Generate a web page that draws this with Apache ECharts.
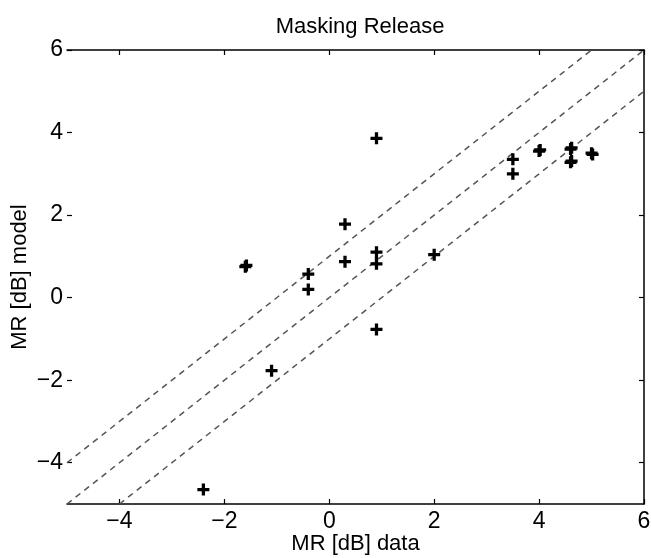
<!DOCTYPE html>
<html>
<head>
<meta charset="utf-8">
<script src="https://cdn.jsdelivr.net/npm/echarts@6/dist/echarts.min.js"></script>
<style>
  html, body { margin: 0; padding: 0; background: #fff; }
  #main { width: 651px; height: 558px; }
</style>
</head>
<body>
<div id="main"></div>
<script>
// Masking Release: model vs data

// measured MR (x) and model MR (y), dB
var mrData  = [-2.4, -1.1, -1.6, -1.58, -0.4, -0.4, 0.3, 0.3, 0.9, 0.9, 0.9, 0.9, 2.0, 3.5, 3.5, 4.0, 4.02, 4.6, 4.62, 4.6, 4.62, 5.0, 5.02];
var mrModel = [-4.65, -1.77, 0.75, 0.78, 0.57, 0.2, 1.78, 0.87, 3.86, 1.1, 0.82, -0.77, 1.04, 3.35, 3.0, 3.55, 3.58, 3.6, 3.63, 3.28, 3.31, 3.5, 3.47];

// reference lines y = x + 1, y = x, y = x - 1 (end points)
var lineUpper = [[-5, -4], [5, 6]];
var lineMid   = [[-5, -5], [6, 6]];
var lineLower = [[-4, -5], [6, 5]];

var tickValues = [-4, -2, 0, 2, 4, 6];

var points = mrData.map(function (x, i) { return [x, mrModel[i]]; });

var font = 'Liberation Sans, Arial, Helvetica, sans-serif';
var plusPath = 'path://M4,0h3v4h4v3h-4v4h-3v-4h-4v-3h4z';

function minus(v) {
    return String(v).replace('-', '\u2212');
}

function dashed(data) {
    return {
        type: 'line',
        data: data,
        symbol: 'none',
        silent: true,
        lineStyle: { color: '#555', width: 1.5, type: [6, 5] },
        z: 1
    };
}

var baseAxis = {
    type: 'value',
    min: -5,
    max: 6,
    splitLine: { show: false },
    axisLine: { show: true, onZero: false, lineStyle: { color: '#000', width: 1.5 } },
    axisTick: { show: true, inside: true, length: 5, customValues: tickValues, lineStyle: { color: '#000', width: 1.2 } }
};

var dom = document.getElementById('main');
var myChart = echarts.init(dom);
var option = {
    animation: false,
    backgroundColor: '#fff',
    title: {
        text: 'Masking Release',
        left: 355,
        top: 11,
        textAlign: 'center',
        textStyle: { fontFamily: font, fontSize: 22, fontWeight: 'normal', color: '#000' }
    },
    grid: { left: 67, right: 7, top: 50, bottom: 54, containLabel: false, outerBoundsMode: 'none' },
    xAxis: [
        Object.assign({}, baseAxis, {
            position: 'bottom',
            name: 'MR [dB] data',
            nameLocation: 'middle',
            nameGap: 29,
            nameMoveOverlap: false,
            nameTextStyle: { fontFamily: font, fontSize: 22, color: '#000' },
            axisLabel: { customValues: tickValues, formatter: minus, margin: 6, fontFamily: font, fontSize: 23, color: '#000' }
        }),
        Object.assign({}, baseAxis, {
            position: 'top',
            axisLabel: { show: false }
        })
    ],
    yAxis: [
        Object.assign({}, baseAxis, {
            position: 'left',
            axisLine: { show: false, onZero: false },
            name: 'MR [dB] model',
            nameLocation: 'middle',
            nameGap: 36,
            nameMoveOverlap: false,
            nameTextStyle: { fontFamily: font, fontSize: 22, color: '#000' },
            axisLabel: { customValues: tickValues, formatter: minus, margin: 4, fontFamily: font, fontSize: 23, color: '#000' }
        }),
        Object.assign({}, baseAxis, {
            position: 'right',
            axisLabel: { show: false }
        })
    ],
    series: [
        dashed(lineUpper),
        dashed(lineMid),
        dashed(lineLower),
        {
            type: 'scatter',
            data: points,
            symbol: plusPath,
            symbolSize: 12,
            itemStyle: { color: '#000', opacity: 1 },
            z: 3
        }
    ]
};

if (option && typeof option === "object") {
    myChart.setOption(option, true);
}
</script>
</body>
</html>
